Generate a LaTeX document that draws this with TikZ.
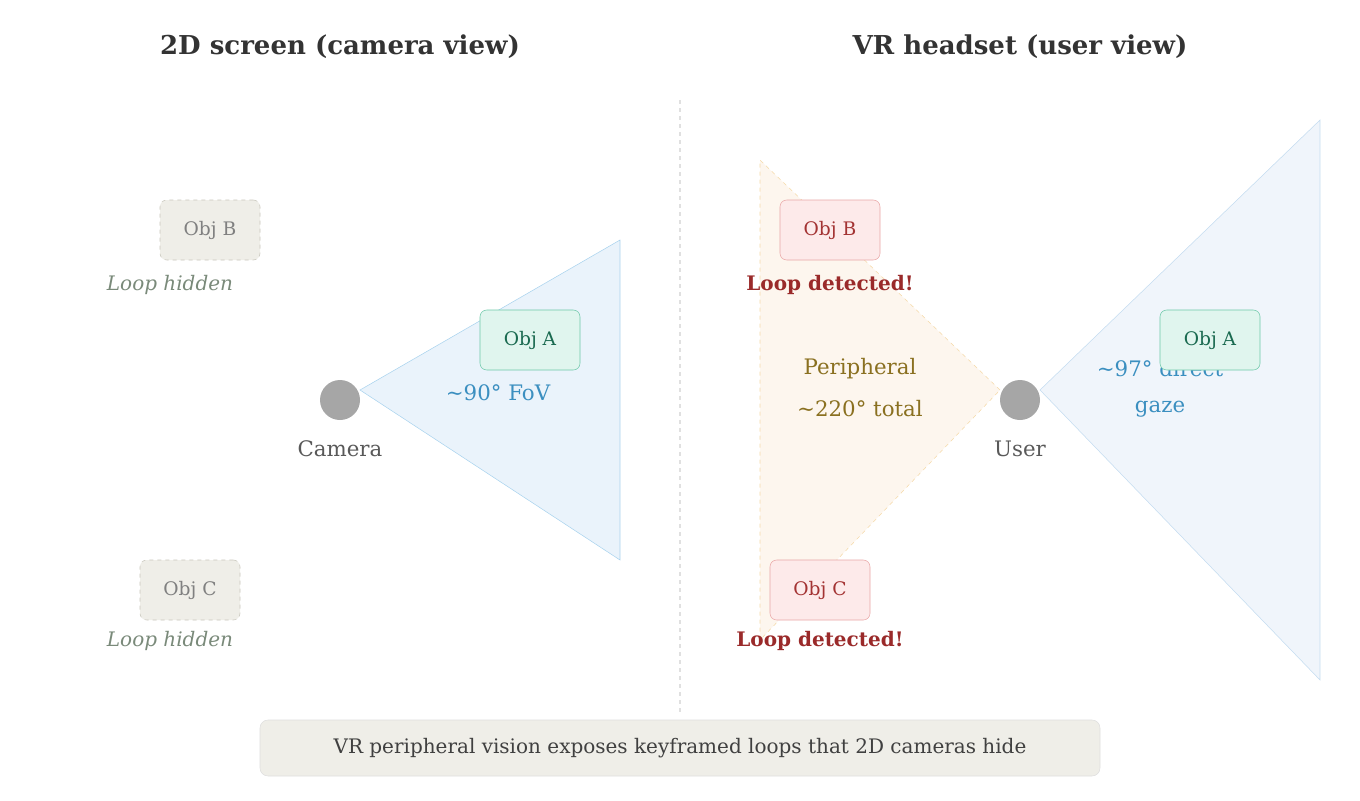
\documentclass[tikz,border=0pt]{standalone}
\usepackage{fontspec}
\setmainfont{DejaVu Serif}
\definecolor{btri}{HTML}{EAF3FB}\definecolor{bline}{HTML}{A9D3EE}
\definecolor{btri2}{HTML}{F0F5FB}\definecolor{bline2}{HTML}{C4DCF0}
\definecolor{gfill}{HTML}{E0F5EE}\definecolor{gline}{HTML}{6CC8A8}\definecolor{gtext}{HTML}{1A6A50}
\definecolor{rfill}{HTML}{FDEAEA}\definecolor{rline}{HTML}{E9A6A6}\definecolor{rtext}{HTML}{A33333}
\definecolor{rbold}{HTML}{9A2A2A}\definecolor{ptext}{HTML}{8A7020}\definecolor{btext}{HTML}{3B8FC0}
\definecolor{htext}{HTML}{7A8A7A}\definecolor{kfill}{HTML}{EFEEE8}\definecolor{kline}{HTML}{C8C6BC}
\definecolor{otri}{HTML}{FDF6EE}\definecolor{oline}{HTML}{F5D9A8}
\begin{document}
\begin{tikzpicture}[x=0.75pt,y=-0.75pt,
  box/.style={rounded corners=5pt,minimum width=75pt,minimum height=45pt,font=\fontsize{14}{16}\selectfont},
  ghost/.style={box,draw=kline,dashed,fill=kfill,text=black!50},
  hit/.style={box,draw=rline,fill=rfill,text=rtext},
  tgt/.style={box,draw=gline,fill=gfill,text=gtext},
  title/.style={font=\bfseries\fontsize{19.5}{22}\selectfont,text=black!80},
  lbl/.style={font=\fontsize{16}{18}\selectfont},
  hid/.style={font=\itshape\fontsize{15}{17}\selectfont,text=htext},
  det/.style={font=\bfseries\fontsize{15}{17}\selectfont,text=rbold},
  dot/.style={circle,fill=black!35,minimum size=30pt,inner sep=0pt}]
\useasboundingbox (0,0) rectangle (1360,800);
\node[title] (t1) at (340,47) {2D screen (camera view)};
\node[title] (t2) at (1020,47) {VR headset (user view)};
\draw[black!12,dashed,line width=1pt] (680,100) -- (680,712);
% left
\draw[fill=btri,draw=bline] (360,390) -- (620,240) -- (620,560) -- cycle;
\node[ghost] (lb) at (210,230) {Obj B};
\node[ghost] (lc) at (190,590) {Obj C};
\node[hid] (lh1) at (170,285) {Loop hidden};
\node[hid] (lh2) at (170,641) {Loop hidden};
\node[dot] (cam) at (340,400) {};
\node[lbl,text=black!65] (caml) at (340,449) {Camera};
\node[tgt] (la) at (530,340) {Obj A};
\node[lbl,text=btext] (fov) at (498,393) {\textasciitilde 90° FoV};
% right
\draw[fill=otri,draw=oline,dashed] (1000,390) -- (760,160) -- (760,640) -- cycle;
\draw[fill=btri2,draw=bline2] (1040,390) -- (1320,120) -- (1320,680) -- cycle;
\node[lbl,text=ptext] (p1) at (860,369) {Peripheral};
\node[lbl,text=ptext] (p2) at (860,409) {\textasciitilde 220° total};
\node[lbl,text=btext] (g1) at (1160,369) {\textasciitilde 97° direct};
\node[lbl,text=btext] (g2) at (1160,409) {gaze};
\node[hit] (rb) at (830,230) {Obj B};
\node[hit] (rc) at (820,590) {Obj C};
\node[det] (ld1) at (830,285) {Loop detected!};
\node[det] (ld2) at (820,641) {Loop detected!};
\node[dot] (usr) at (1020,400) {};
\node[lbl,text=black!65] (usrl) at (1020,449) {User};
\node[tgt] (ra) at (1210,340) {Obj A};
% footer
\node[rounded corners=6pt,draw=black!13,fill=kfill,minimum width=630pt,minimum height=42pt,text=black!75,font=\fontsize{15}{17}\selectfont] (foot) at (680,748) {VR peripheral vision exposes keyframed loops that 2D cameras hide};
\end{tikzpicture}
\end{document}
